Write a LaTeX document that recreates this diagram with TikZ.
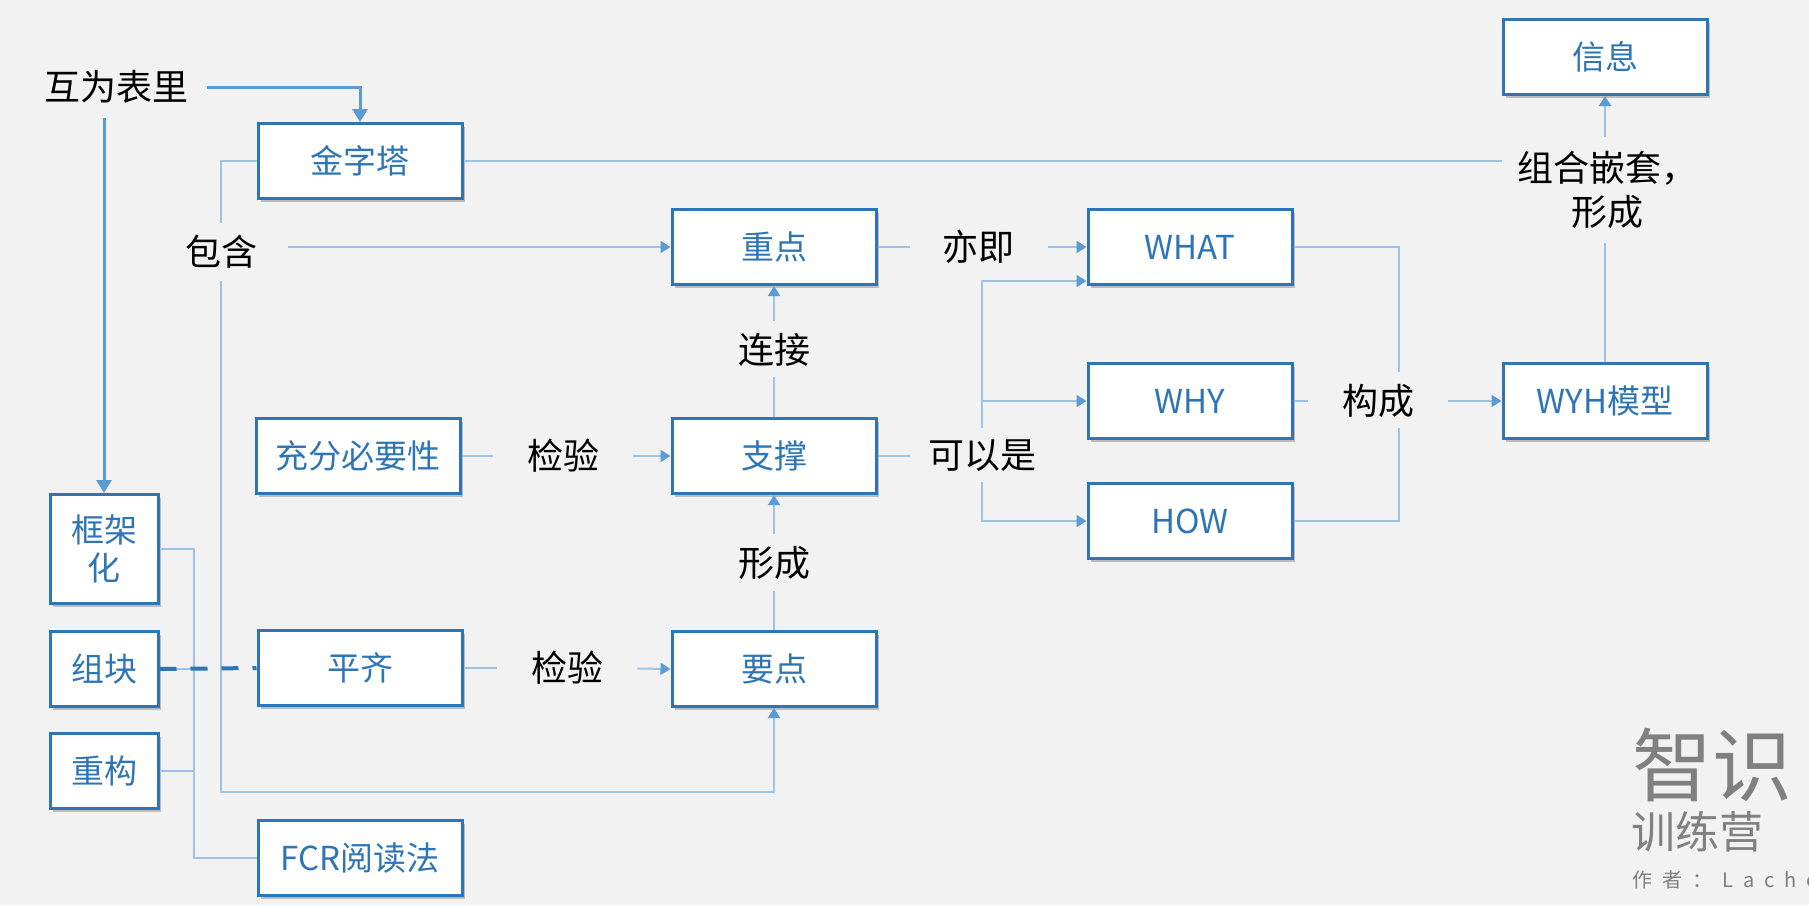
\documentclass[tikz,border=0pt]{standalone}
\usepackage{fontspec}
\newfontfamily\cjk{Noto Sans CJK SC}
\newfontfamily\cjkls[LetterSpace=50]{Noto Sans CJK SC}
\usetikzlibrary{arrows.meta,shadows,calc}
\definecolor{bg}{RGB}{242,242,242}
\definecolor{boxblue}{RGB}{46,117,182}
\definecolor{thinblue}{RGB}{157,195,230}
\definecolor{arrblue}{RGB}{91,155,213}
\definecolor{wmgray}{RGB}{128,128,128}
\begin{document}
\begin{tikzpicture}[x=0.5pt,y=-0.5pt,
 box/.style={draw=boxblue, line width=1.5pt, fill=white, text=boxblue,
   minimum width=102pt, minimum height=37.5pt, inner sep=0pt,
   font=\cjk\fontsize{16.5pt}{19pt}\selectfont, align=center,
   drop shadow={shadow xshift=1.5pt, shadow yshift=-1.5pt, opacity=0.22, fill=black}},
 sbox/.style={box, minimum width=54pt},
 lbl/.style={inner sep=0pt, font=\cjk\fontsize{18pt}{22pt}\selectfont, text=black, align=center},
 con/.style={draw=thinblue, line width=1pt},
 arr/.style={con, -{Triangle[length=5pt,width=6pt,color=arrblue]}},
 thickarr/.style={draw=arrblue, line width=1.5pt, -{Triangle[length=6.5pt,width=7.5pt]}},
 dashcon/.style={draw=boxblue, line width=2pt, dash pattern=on 8.5pt off 7pt},
 wm/.style={anchor=west, inner sep=0pt, text=wmgray}
]
\useasboundingbox (0,0) rectangle (1809,905);
\clip (0,0) rectangle (1809,905);
\fill[bg] (0,0) rectangle (1809,905);

% boxes
\node[box] (jzt) at (360,161) {金字塔};
\node[box] (zd) at (774,247) {重点};
\node[box] (what) at (1190,247) {WHAT};
\node[box] (why) at (1190,401) {WHY};
\node[box] (how) at (1190,521) {HOW};
\node[box] (xx) at (1605,57) {信息};
\node[box] (wyh) at (1605,401) {WYH模型};
\node[box] (cf) at (358,456) {充分必要性};
\node[box] (zc) at (774,456) {支撑};
\node[box] (pq) at (360,668) {平齐};
\node[box] (yd) at (774,669) {要点};
\node[sbox, minimum height=54.5pt] (kjh) at (104,549) {框架\\化};
\node[sbox] (zk) at (104,669) {组块};
\node[sbox] (cg) at (104,771) {重构};
\node[box] (fcr) at (360,858) {FCR阅读法};

% labels
\node[lbl] (hwbl) at (116,87) {互为表里};
\node[lbl] (bh) at (221,252) {包含};
\node[lbl] (yj) at (978,247) {亦即};
\node[lbl] (lj) at (774,350) {连接};
\node[lbl] (jy1) at (563,456) {检验};
\node[lbl] (jy2) at (567,668) {检验};
\node[lbl] (xc) at (774,563) {形成};
\node[lbl] (kys) at (982,456) {可以是};
\node[lbl] (gc) at (1378,401) {构成};
\node[lbl] (zh) at (1607,190) {组合嵌套，\\形成};

% watermark
\node[wm, font=\cjk\fontsize{40pt}{40pt}\selectfont] (wm1) at (1632,765) {智识};
\node[wm, font=\cjk\fontsize{22pt}{22pt}\selectfont] (wm2) at (1631,832) {训练营};
\node[wm, font=\cjkls\fontsize{10pt}{10pt}\selectfont] (wm3) at (1632,880) {作者：Lache};

% connectors
\draw[thickarr, shorten <=9.5pt] (hwbl.east) -| (jzt.north);
\draw[thickarr, shorten <=7pt] (kjh.north |- hwbl.south) -- (kjh.north);

\draw[con, shorten >=6pt] (jzt.west) -| (bh.north);
\draw[arr, shorten <=6pt] (bh.south) |- ($(yd.south)+(0,84)$) -- (yd.south);
\draw[arr, shorten <=15.5pt] (bh.east |- zd.west) -- (zd.west);

\draw[con, shorten >=16pt] (zd.east) -- (yj.west);
\draw[arr, shorten <=17pt] (yj.east) -- (what.west);

\draw[con, shorten >=5pt] (zc.north) -- (lj.south);
\draw[arr, shorten <=6pt] (lj.north) -- (zd.south);

\draw[con, shorten >=17pt] (cf.east) -- (jy1.west);
\draw[arr, shorten <=17pt] (jy1.east) -- (zc.west);
\draw[con, shorten >=17pt] (pq.east) -- (jy2.west);
\draw[arr, shorten <=17pt] (jy2.east) -- (yd.west);

\draw[con, shorten >=5.5pt] (yd.north) -- (xc.south);
\draw[arr, shorten <=6pt] (xc.north) -- (zc.south);

\draw[con, shorten >=9pt] (zc.east) -- (kys.west);
\draw[arr, shorten <=6pt] (kys.north) |- ($(what.west)+(0,34)$);
\draw[arr, shorten <=6pt] (kys.north) |- (why.west);
\draw[arr, shorten <=5pt] (kys.south) |- (how.west);

\draw[con, shorten >=6pt] (what.east) -| ($(gc.north)+(21,0)$);
\draw[con, shorten >=5pt] (how.east) -| ($(gc.south)+(21,0)$);
\draw[con, shorten >=17pt] (why.east) -- (gc.west);
\draw[arr, shorten <=17pt] (gc.east) -- (wyh.west);

\draw[con, shorten >=7pt] (wyh.north) -- (wyh.north |- zh.south);
\draw[arr, shorten <=7pt] (xx.south |- zh.north) -- (xx.south);
\draw[con, shorten >=7.5pt] (jzt.east) -- (jzt.east -| zh.west);

\draw[con] (kjh.east) -- ++(34,0) |- (fcr.west);
\draw[con] (zk.east) -- ++(34,0);
\draw[con] (cg.east) -- ++(34,0);
\draw[dashcon] (zk.east) -- (pq.west);
\end{tikzpicture}
\end{document}
